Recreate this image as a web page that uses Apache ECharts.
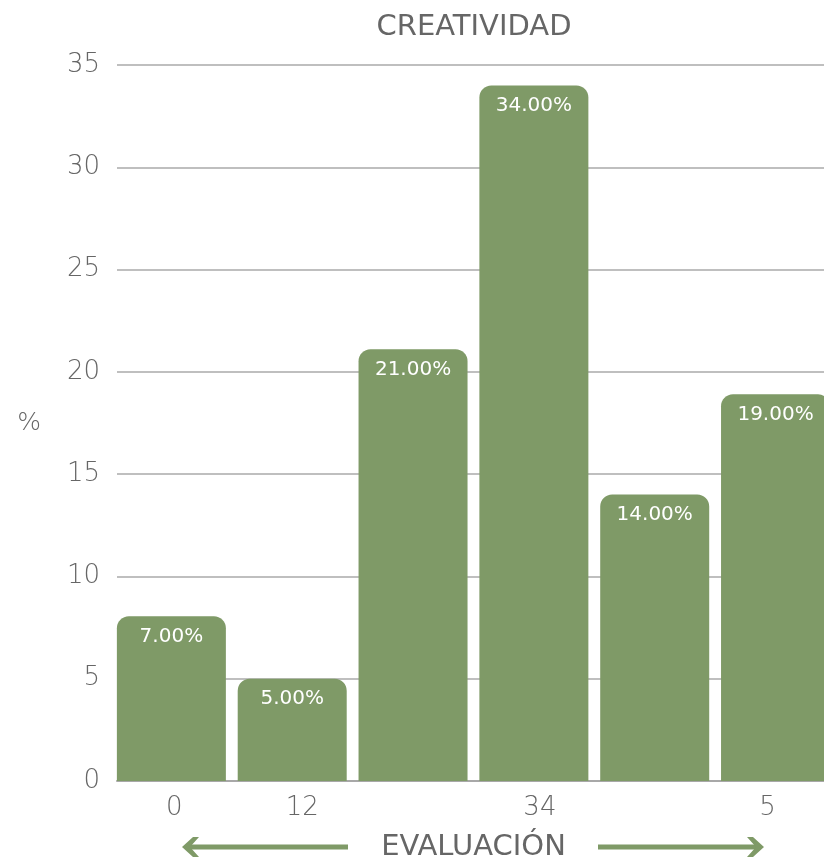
<!DOCTYPE html>
<html>
<head>
<meta charset="utf-8">
<script src="https://cdn.jsdelivr.net/npm/echarts@6/dist/echarts.min.js"></script>
<style>html,body{margin:0;padding:0;background:#fff}#c{width:824px;height:863px}</style>
</head>
<body>
<div id="c"></div>
<script>
var categories = ["0", "1", "2", "3", "4", "5"];
// bar heights as drawn in the picture
var values = [8.05, 5, 21.1, 34, 14, 18.9];
// value labels as printed on the bars
var valueLabels = ["7.00%", "5.00%", "21.00%", "34.00%", "14.00%", "19.00%"];
var tickLabels = ["0", "12", "", "34", "", "5"];
var yTicks = [0, 5, 10, 15, 20, 25, 30, 35];
var titleText = "CREATIVIDAD";
var xName = "EVALUACIÓN";
var yName = "%";

var green = "#7f9a67";
var grey = "#666666";
var font = "'DejaVu Sans', sans-serif";

var chart = echarts.init(document.getElementById('c'));
var seriesData = categories.map(function (c, i) { return [i, values[i]]; });
var labelIdx = [];
tickLabels.forEach(function (t, i) { if (t) labelIdx.push(i); });
var labelRich = {
  s0: { padding: [0, 0, 0, 6] },
  s1: { padding: [0, 0, 0, 20] },
  s3: { padding: [0, 0, 0, 12] },
  s5: { padding: [0, 16, 0, 0] }
};
Object.keys(labelRich).forEach(function (k) {
  labelRich[k].fontSize = 26; labelRich[k].color = grey; labelRich[k].fontFamily = font; labelRich[k].fontWeight = 200;
});

chart.setOption({
  animation: false,
  title: {
    text: titleText, left: 469, top: 8, textAlign: 'center',
    textStyle: { fontFamily: font, fontSize: 29, fontWeight: 'normal', color: grey }
  },
  grid: { left: 117, top: 65, width: 725, bottom: 82, outerBoundsMode: 'none', containLabel: false },
  xAxis: {
    type: 'value', min: -0.45, max: 5.55,
    name: xName, nameLocation: 'middle', nameGap: 52,
    nameTextStyle: { fontFamily: font, fontSize: 29, color: grey, fontWeight: 'normal', padding: [0, 12, 0, 0] },
    axisLine: { show: true, onZero: false, lineStyle: { color: '#a8a8a8', width: 2 } },
    axisTick: { show: false },
    splitLine: { show: false },
    axisLabel: {
      margin: 14,
      customValues: labelIdx,
      formatter: function (v) {
        var i = Math.round(v);
        return '{s' + i + '|' + tickLabels[i] + '}';
      },
      rich: labelRich
    }
  },
  yAxis: {
    type: 'value', min: yTicks[0], max: yTicks[yTicks.length - 1], interval: yTicks[1] - yTicks[0],
    name: yName, nameLocation: 'middle', nameGap: 76, nameRotate: 0,
    nameTextStyle: { fontFamily: font, fontSize: 25, color: grey, fontWeight: 200 },
    axisLine: { show: false }, axisTick: { show: false },
    axisLabel: { margin: 17, fontFamily: font, fontSize: 26, color: grey, fontWeight: 200 },
    splitLine: { lineStyle: { color: '#aaaaaa', width: 1.5 } }
  },
  series: [{
    type: 'bar',
    data: seriesData,
    barWidth: 109,
    itemStyle: { color: green, borderRadius: [12, 12, 0, 0] },
    label: {
      show: true, position: 'insideTop', distance: 10,
      formatter: function (p) { return valueLabels[p.dataIndex]; },
      color: '#ffffff', fontFamily: font, fontSize: 20
    }
  }],
  graphic: [
    { type: 'line', shape: { x1: 190, y1: 847, x2: 348, y2: 847 }, style: { stroke: green, lineWidth: 5 } },
    { type: 'polygon', shape: { points: [[182, 847], [193, 837], [199, 837], [190, 847], [199, 857], [193, 857]] }, style: { fill: green } },
    { type: 'line', shape: { x1: 598, y1: 847, x2: 756, y2: 847 }, style: { stroke: green, lineWidth: 5 } },
    { type: 'polygon', shape: { points: [[764, 847], [753, 837], [747, 837], [756, 847], [747, 857], [753, 857]] }, style: { fill: green } }
  ]
});
</script>
</body>
</html>
